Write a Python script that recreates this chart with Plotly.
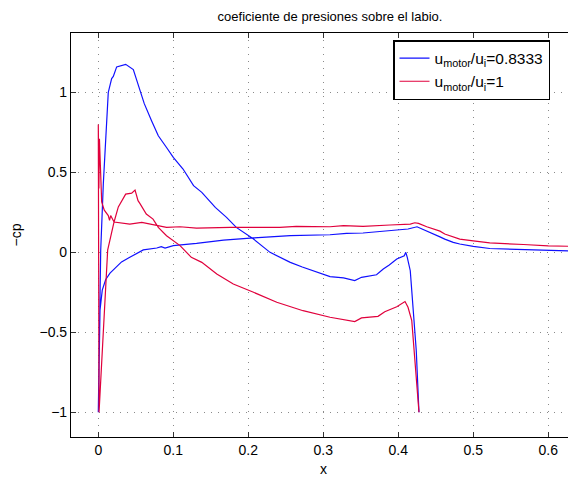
import plotly.graph_objects as go

# Series u_motor/u_i = 0.8333 (blue): loop from trailing edge to far field
blue_x = [0.4276, 0.424, 0.420, 0.416, 0.412, 0.410, 0.408, 0.398, 0.388, 0.380,
          0.371, 0.351, 0.342, 0.327, 0.309, 0.287, 0.272, 0.256, 0.229, 0.207,
          0.184, 0.171, 0.156, 0.138, 0.127, 0.113, 0.100, 0.091, 0.080, 0.071,
          0.0613, 0.051, 0.0467, 0.0365, 0.030, 0.0245, 0.020, 0.0178, 0.0133, 0.0099,
          0.0067, 0.0032, 0.0,
          0.0023, 0.0053, 0.0099, 0.0156, 0.031, 0.042, 0.060, 0.078, 0.084, 0.089,
          0.100, 0.131, 0.167, 0.207, 0.256, 0.309, 0.331, 0.353, 0.389, 0.413,
          0.425, 0.438, 0.451, 0.4556, 0.462, 0.4733, 0.482, 0.500, 0.522, 0.567,
          0.600, 0.636, 0.660]
blue_y = [-1.0, -0.615, -0.365, -0.115, -0.031, 0.0, -0.021, -0.042, -0.079, -0.104,
          -0.140, -0.156, -0.177, -0.160, -0.152, -0.119, -0.092, -0.0625, 0.0, 0.083,
          0.156, 0.219, 0.281, 0.375, 0.417, 0.521, 0.594, 0.656, 0.729, 0.823,
          0.93, 1.08, 1.143, 1.176, 1.165, 1.16, 1.10, 1.087, 1.0, 0.745,
          0.43, 0.01, -1.0,
          -0.36, -0.236, -0.17, -0.13, -0.06, -0.031, 0.015, 0.027, 0.035, 0.027,
          0.042, 0.056, 0.077, 0.090, 0.104, 0.110, 0.119, 0.121, 0.135, 0.146,
          0.160, 0.135, 0.110, 0.097, 0.083, 0.062, 0.052, 0.037, 0.024, 0.016,
          0.0094, 0.0075, 0.006]

# Series u_motor/u_i = 1 (red)
red_x = [0.4276, 0.425, 0.422, 0.418, 0.413, 0.409, 0.398, 0.382, 0.373, 0.351,
         0.342, 0.327, 0.309, 0.273, 0.238, 0.207, 0.180, 0.158, 0.138, 0.124,
         0.109, 0.091, 0.080, 0.073, 0.064, 0.0556, 0.053, 0.049, 0.047, 0.0445,
         0.0365, 0.0267, 0.021, 0.0156, 0.0125, 0.001, 0.0, 0.0008, 0.0015, 0.0045,
         0.008, 0.0133, 0.015, 0.0165, 0.021, 0.0356, 0.042, 0.058, 0.078, 0.091,
         0.109, 0.131, 0.176, 0.242, 0.264, 0.309, 0.327, 0.353, 0.389, 0.416,
         0.422, 0.427, 0.438, 0.451, 0.4556, 0.462, 0.4733, 0.482, 0.500, 0.522,
         0.567, 0.600, 0.636, 0.660]
red_y = [-1.0, -0.844, -0.635, -0.427, -0.344, -0.308, -0.340, -0.371, -0.400, -0.410,
         -0.433, -0.419, -0.406, -0.365, -0.3125, -0.250, -0.198, -0.135, -0.0625, -0.031,
         0.042, 0.104, 0.156, 0.208, 0.240, 0.305, 0.323, 0.390, 0.381, 0.370,
         0.364, 0.284, 0.190, 0.076, 0.014, -1.0, 0.80, 0.40, 0.71, 0.316,
         0.264, 0.230, 0.20, 0.23, 0.19, 0.18, 0.177, 0.1875, 0.167, 0.156,
         0.160, 0.152, 0.156, 0.156, 0.1625, 0.160, 0.167, 0.1625, 0.171, 0.177,
         0.185, 0.181, 0.160, 0.140, 0.1325, 0.115, 0.097, 0.083, 0.072, 0.059,
         0.049, 0.041, 0.037, 0.035]

x_ticks = [0, 0.1, 0.2, 0.3, 0.4, 0.5, 0.6]
x_tick_labels = ["0", "0.1", "0.2", "0.3", "0.4", "0.5", "0.6"]
y_ticks = [-1, -0.5, 0, 0.5, 1]
y_tick_labels = ["\u22121", "\u22120.5", "0", "0.5", "1"]

FONT = "Liberation Sans, Arial, sans-serif"

# page body has an 8px margin: figure is sized/offset to compensate
W, H = 568, 469
L, T, B = 63, 25, 40

fig = go.Figure()
fig.add_trace(go.Scatter(x=blue_x, y=blue_y, mode="lines",
                         line=dict(color="#1010FF", width=1.2),
                         name="u<sub>motor</sub>/u<sub>i</sub>=0.8333"))
fig.add_trace(go.Scatter(x=red_x, y=red_y, mode="lines",
                         line=dict(color="#E0003C", width=1.2),
                         name="u<sub>motor</sub>/u<sub>i</sub>=1"))

plot_w = W - L
plot_h = H - T - B

fig.update_layout(
    width=W, height=H,
    margin=dict(l=L, r=0, t=T, b=B, autoexpand=False),
    paper_bgcolor="white", plot_bgcolor="white",
    font=dict(family=FONT, size=14, color="black"),
    title=dict(text="coeficiente de presiones sobre el labio.",
               x=322 / W, xanchor="center", xref="container",
               y=1 - 8 / H, yanchor="middle", yref="container",
               font=dict(family=FONT, size=13, color="black")),
    legend=dict(x=(393 - 71) / plot_w, y=1 - (40 - 33) / plot_h,
                xanchor="left", yanchor="top",
                bgcolor="white", bordercolor="black", borderwidth=1.5,
                font=dict(family=FONT, size=15.5, color="black"),
                tracegroupgap=0),
    showlegend=True,
)

fig.update_xaxes(range=[-0.0364, 0.637], tickvals=x_ticks, ticktext=x_tick_labels,
                 showline=True, linecolor="black", linewidth=1.2, mirror="ticks",
                 ticks="inside", ticklen=5, tickcolor="#333",
                 showgrid=True, gridcolor="#8a8a8a", griddash="1px,6px", gridwidth=1,
                 zeroline=False, automargin=False,
                 tickfont=dict(family=FONT, size=14),
                 title=dict(text="x", standoff=8, font=dict(family=FONT, size=14)))
fig.update_yaxes(range=[-1.155, 1.372], tickvals=y_ticks, ticktext=y_tick_labels,
                 showline=True, linecolor="black", linewidth=1.2, mirror=False,
                 ticks="inside", ticklen=5, tickcolor="#333",
                 showgrid=True, gridcolor="#8a8a8a", griddash="1px,6px", gridwidth=1,
                 zeroline=False, automargin=False,
                 tickfont=dict(family=FONT, size=14),
                 title=dict(text="\u2212cp", standoff=17, font=dict(family=FONT, size=14)))

fig.write_html("out.html")
